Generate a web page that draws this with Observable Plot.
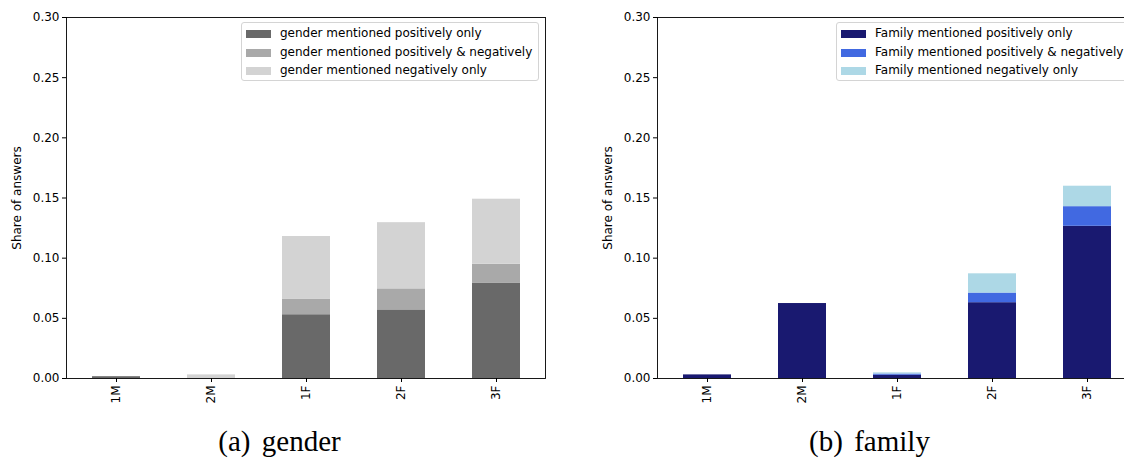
<!DOCTYPE html>
<html>
<head>
<meta charset="utf-8">
<script src="https://cdn.jsdelivr.net/npm/d3@7"></script>
<script src="https://cdn.jsdelivr.net/npm/@observablehq/plot@0.6"></script>
<style>
  body { margin: 0; width: 1124px; height: 459px; overflow: hidden; background: #fff; position: relative; font-family: "DejaVu Sans", sans-serif; }
  .panel { position: absolute; top: 0; }
  .legend { position: absolute; border: 1px solid #d4d4d4; border-radius: 3px; background: rgba(255,255,255,0.85); font-size: 12px; color: #000; box-sizing: border-box; }
  .entry { position: absolute; left: 0; height: 18px; white-space: nowrap; }
  .sw { position: absolute; left: 4px; top: 5px; width: 25px; height: 8px; }
  .lab { position: absolute; left: 38px; top: 0px; line-height: 17px; }
  .caption { position: absolute; font-family: "Liberation Serif", serif; font-size: 29px; line-height: 1; transform: translateX(-50%); white-space: nowrap; word-spacing: 4px; color: #000; }
</style>
</head>
<body>
<div id="root"></div>
<script>
const categories = ["1M", "2M", "1F", "2F", "3F"];
const yTicks = [0, 0.05, 0.10, 0.15, 0.20, 0.25, 0.30];

const genderSeries = ["gender mentioned positively only", "gender mentioned positively & negatively", "gender mentioned negatively only"];
const genderPos  = [0.0015, 0, 0.053, 0.057, 0.079];
const genderBoth = [0, 0, 0.013, 0.0175, 0.016];
const genderNeg  = [0, 0.003, 0.052, 0.055, 0.054];
const genderColors = ["#696969", "#a9a9a9", "#d3d3d3"];

const familySeries = ["Family mentioned positively only", "Family mentioned positively & negatively", "Family mentioned negatively only"];
const familyPos  = [0.003, 0.0623, 0.0027, 0.063, 0.1265];
const familyBoth = [0, 0, 0.001, 0.008, 0.0163];
const familyNeg  = [0, 0, 0.001, 0.016, 0.017];
const familyColors = ["#191970", "#4169e1", "#add8e6"];

const captions = ["(a) gender", "(b) family"];

function makePanel(series, values, colors) {
  const rows = [];
  categories.forEach((c, i) => series.forEach((s, j) => rows.push({cat: c, series: s, value: values[j][i]})));
  return Plot.plot({
    width: 555, height: 420,
    marginLeft: 66, marginRight: 10, marginTop: 17, marginBottom: 42,
    x: {domain: categories, paddingInner: 0.5, paddingOuter: 0.25},
    y: {domain: [0, 0.3]},
    color: {domain: series, range: colors},
    style: {fontFamily: "DejaVu Sans", fontSize: "12px", color: "#000", background: "transparent"},
    marks: [
      Plot.barY(rows, {x: "cat", y: "value", fill: "series"}),
      Plot.frame({stroke: "#000", strokeWidth: 0.9}),
      Plot.axisX({tickRotate: -90, tickSize: 4, tickPadding: 3, label: null, fontSize: 12}),
      Plot.axisY({ticks: yTicks, tickFormat: d3.format(".2f"), tickSize: 4, tickPadding: 3, fontSize: 12,
        label: "Share of answers", labelAnchor: "center", labelArrow: "none", labelOffset: 54})
    ]
  });
}

function makeLegend(series, colors, left, width) {
  const lg = document.createElement("div");
  lg.className = "legend";
  lg.style.left = left + "px";
  lg.style.top = "22px";
  lg.style.width = width + "px";
  lg.style.height = "59px";
  series.forEach((s, j) => {
    const e = document.createElement("div");
    e.className = "entry";
    e.style.top = (2 + j * 18.5) + "px";
    const sw = document.createElement("div");
    sw.className = "sw";
    sw.style.background = colors[j];
    const lab = document.createElement("div");
    lab.className = "lab";
    lab.textContent = s;
    e.appendChild(sw); e.appendChild(lab);
    lg.appendChild(e);
  });
  return lg;
}

const root = document.getElementById("root");
const p1 = makePanel(genderSeries, [genderPos, genderBoth, genderNeg], genderColors);
p1.classList.add("panel"); p1.style.left = "0px";
const p2 = makePanel(familySeries, [familyPos, familyBoth, familyNeg], familyColors);
p2.classList.add("panel"); p2.style.left = "591px";
root.appendChild(p1);
root.appendChild(p2);
root.appendChild(makeLegend(genderSeries, genderColors, 241, 298));
root.appendChild(makeLegend(familySeries, familyColors, 836, 296));

[[captions[0], 279.5], [captions[1], 869.5]].forEach(([t, cx]) => {
  const c = document.createElement("div");
  c.className = "caption";
  c.style.left = cx + "px";
  c.style.top = "427px";
  c.textContent = t;
  root.appendChild(c);
});
</script>
</body>
</html>
